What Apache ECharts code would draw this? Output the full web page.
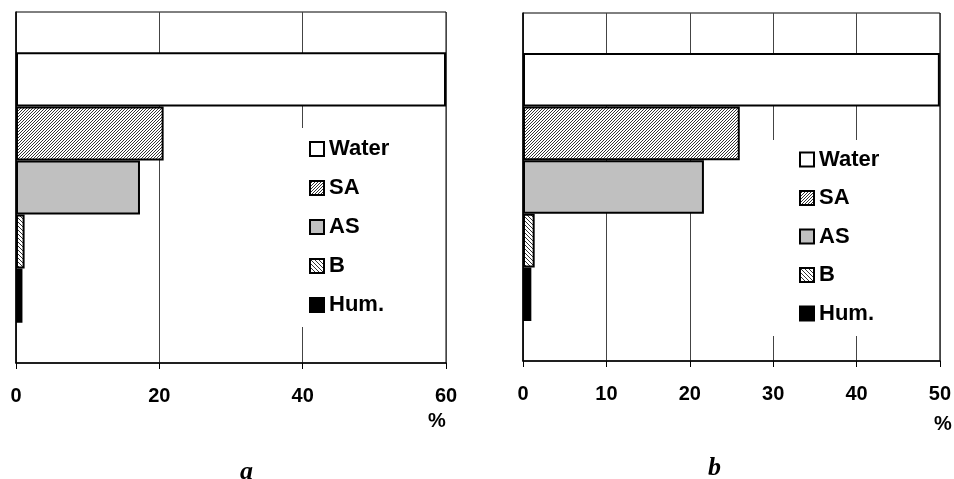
<!DOCTYPE html>
<html>
<head>
<meta charset="utf-8">
<script src="https://cdn.jsdelivr.net/npm/echarts@6/dist/echarts.min.js"></script>
<style>
  html, body { margin: 0; padding: 0; background: #fff; }
  #chart { width: 954px; height: 479px; }
</style>
</head>
<body>
<div id="chart"></div>
<script>
    // series names (top to bottom)
    var seriesNames = ['Water', 'SA', 'AS', 'B', 'Hum.'];
    // panel a values, %
    var valuesA = [60, 20.6, 17.3, 1.2, 0.9];
    // panel b values, %
    var valuesB = [50, 26, 21.7, 1.4, 1.0];
    var ticksA = [0, 20, 40, 60];
    var ticksB = [0, 10, 20, 30, 40, 50];

    // hatch pattern: dir 1 = "/", dir -1 = "\"
    function hatch(dir, s) {
        var c = document.createElement('canvas');
        c.width = s; c.height = s;
        var ctx = c.getContext('2d');
        ctx.fillStyle = '#fff';
        ctx.fillRect(0, 0, s, s);
        ctx.strokeStyle = '#333';
        ctx.lineWidth = 1;
        ctx.beginPath();
        if (dir > 0) {
            ctx.moveTo(-1, s + 1); ctx.lineTo(s + 1, -1);
            ctx.moveTo(-1, 1); ctx.lineTo(1, -1);
            ctx.moveTo(s - 1, s + 1); ctx.lineTo(s + 1, s - 1);
        } else {
            ctx.moveTo(-1, -1); ctx.lineTo(s + 1, s + 1);
            ctx.moveTo(s - 1, -1); ctx.lineTo(s + 1, 1);
            ctx.moveTo(-1, s - 1); ctx.lineTo(1, s + 1);
        }
        ctx.stroke();
        return {image: c, repeat: 'repeat'};
    }

    var fills = ['#ffffff', hatch(1, 3), '#c0c0c0', hatch(-1, 4), '#000000'];

    function makeSeries(values, gridIdx) {
        var list = [];
        for (var i = 0; i < seriesNames.length; i++) {
            list.push({
                name: seriesNames[i],
                type: 'bar',
                xAxisIndex: gridIdx,
                yAxisIndex: gridIdx,
                data: [values[i]],
                barGap: '0%',
                barCategoryGap: '23%',
                itemStyle: {color: fills[i], borderColor: '#000', borderWidth: 2},
                emphasis: {disabled: true},
                silent: true
            });
        }
        return list;
    }

    function valueAxis(gridIdx, ticks) {
        return {
            type: 'value',
            gridIndex: gridIdx,
            min: ticks[0],
            max: ticks[ticks.length - 1],
            interval: ticks[1] - ticks[0],
            axisLine: {show: true, lineStyle: {color: '#000', width: 1.5}},
            axisTick: {show: true, length: 6, lineStyle: {color: '#000'}},
            axisLabel: {
                margin: 23, color: '#000', fontSize: 20, fontWeight: 'bold',
                fontFamily: 'Liberation Sans, Arial, sans-serif'
            },
            splitLine: {show: true, lineStyle: {color: '#444', width: 1}}
        };
    }

    function catAxis(gridIdx) {
        return {
            type: 'category',
            gridIndex: gridIdx,
            data: [''],
            axisLine: {show: true, lineStyle: {color: '#000', width: 1.5}},
            axisTick: {show: false},
            axisLabel: {show: false}
        };
    }

    function legend(left, top, padding, gap) {
        return {
            orient: 'vertical',
            left: left,
            top: top,
            padding: padding,
            itemGap: gap,
            itemWidth: 14,
            itemHeight: 14,
            itemTextGap: 8,
            icon: 'rect',
            backgroundColor: '#fff',
            selectedMode: false,
            data: seriesNames,
            textStyle: {
                color: '#000', fontSize: 22, fontWeight: 'bold', lineHeight: 22,
                fontFamily: 'Liberation Sans, Arial, sans-serif'
            }
        };
    }

    var textFont = 'bold 20px "Liberation Sans", Arial, sans-serif';
    var letterFont = 'italic bold 26px "Liberation Serif", "Times New Roman", serif';

    var chart = echarts.init(document.getElementById('chart'), null, {renderer: 'canvas'});
    chart.setOption({
        animation: false,
        backgroundColor: '#fff',
        grid: [
            {left: 16, right: 508, top: 12, bottom: 116, show: true, borderColor: '#000', borderWidth: 1},
            {left: 523, right: 12, top: 13, bottom: 118, show: true, borderColor: '#000', borderWidth: 1}
        ],
        xAxis: [valueAxis(0, ticksA), valueAxis(1, ticksB)],
        yAxis: [catAxis(0), catAxis(1)],
        legend: [
            legend(296, 128, [10, 12, 11, 13], 17),
            legend(768, 140, [8.5, 12, 11.5, 31], 16.5)
        ],
        series: makeSeries(valuesA, 0).concat(makeSeries(valuesB, 1)),
        graphic: [
            {type: 'text', left: 428, top: 411, style: {text: '%', font: textFont, fill: '#000'}},
            {type: 'text', left: 934, top: 414, style: {text: '%', font: textFont, fill: '#000'}},
            {type: 'text', left: 240, top: 459, style: {text: 'a', font: letterFont, fill: '#000'}},
            {type: 'text', left: 708, top: 455, style: {text: 'b', font: letterFont, fill: '#000'}}
        ]
    });
</script>
</body>
</html>
